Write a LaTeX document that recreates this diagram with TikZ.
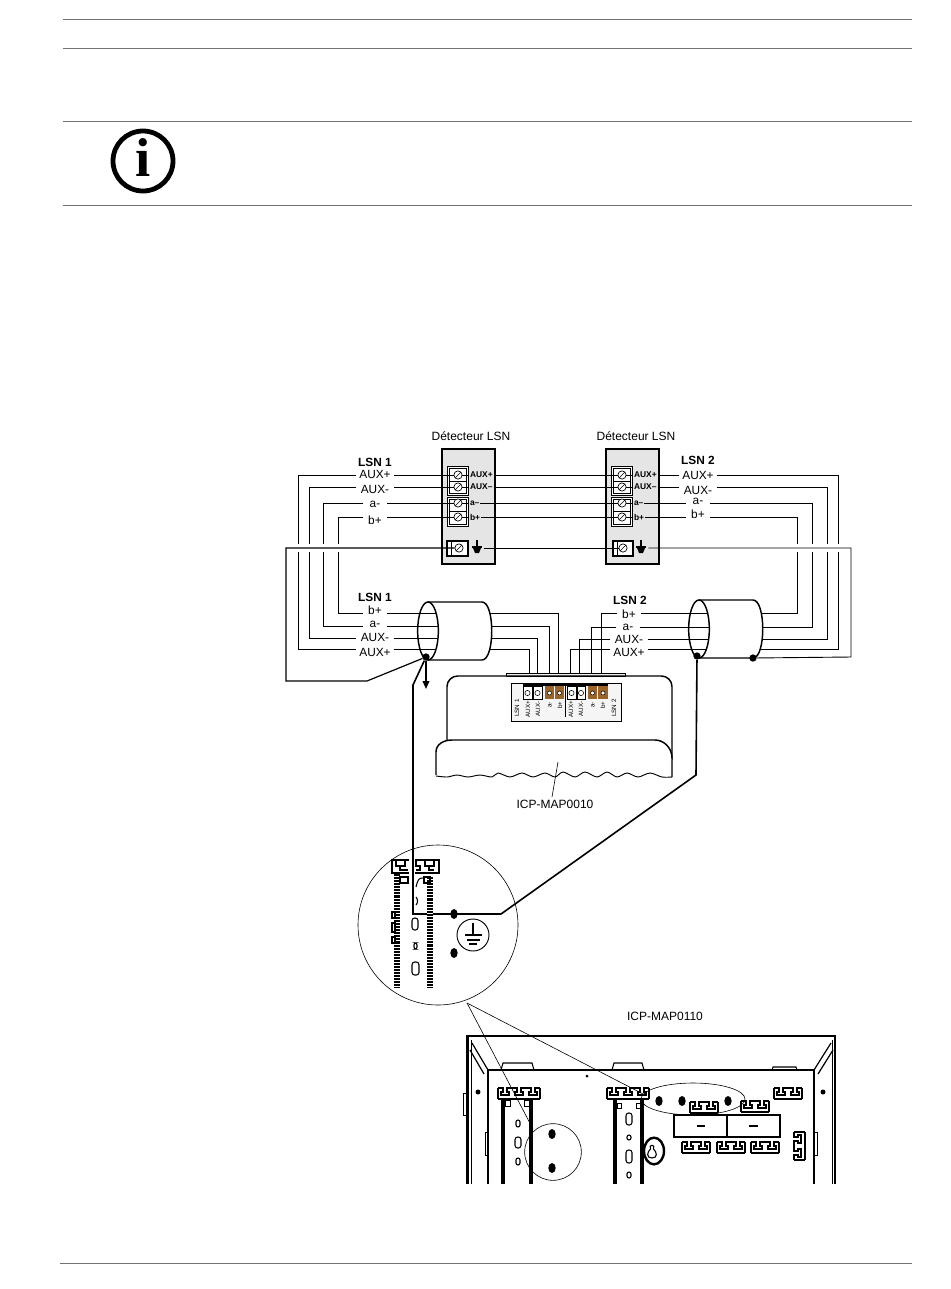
\documentclass[tikz,border=0pt]{standalone}
\usepackage{fontspec}
\setmainfont{Liberation Sans}
\newfontfamily\iconfont{Liberation Serif}
\usetikzlibrary{shapes.geometric,arrows.meta}

\definecolor{termbrown}{HTML}{9A6428}
\tikzset{
  wire/.style={line width=0.68pt},
  wiregap/.style={white,line width=6pt},
  earthwire/.style={line width=0.9pt},
  heavywire/.style={line width=1.2pt},
  rule/.style={black!55,line width=0.7pt},
  thinline/.style={line width=0.45pt},
  auxlabel/.style={inner sep=0pt,minimum height=9pt,minimum width=27.5pt,font=\fontsize{8.9}{9}\selectfont},
  pairlabel/.style={inner sep=0pt,minimum height=9pt,minimum width=17pt,font=\fontsize{8.9}{9}\selectfont},
  headlabel/.style={font=\fontsize{8.9}{9}\selectfont\bfseries},
  titlelabel/.style={font=\fontsize{9}{9}\selectfont},
  termlabel/.style={anchor=west,inner sep=0.6pt,font=\fontsize{6.3}{7}\selectfont\bfseries},
  modlabel/.style={rotate=90,inner sep=0pt,font=\fontsize{4.7}{5}\selectfont},
  screw/.style={circle,draw,fill=white,line width=0.5pt,inner sep=0pt,minimum size=6.2pt,
    path picture={\draw[line width=0.5pt] (path picture bounding box.south west) -- (path picture bounding box.north east);}},
  cable/.style={ellipse,draw,line width=1.1pt,inner sep=0pt,outer sep=0pt,minimum width=15.5pt,minimum height=43.5pt},
  blackdot/.style={circle,fill=black,inner sep=0pt,minimum size=5.5pt},
  earthbox/.style={inner sep=0pt,minimum width=10.5pt,minimum height=10pt},
  hole/.style={ellipse,fill=black,inner sep=0pt,minimum width=5.5pt,minimum height=7.5pt},
  slotline/.style={line width=0.8pt},
  earthsign/.pic={
    \draw[line width=1pt] (0,-8) -- (0,2);
    \draw[line width=1pt] (-5,-1) -- (5,-1);
    \fill (-4,0) -- (4,0) -- (2,5) -- (-2,5) -- cycle;
  },
  slotunit/.pic={
    \draw[slotline] (0,0) -- (5,0) -- (5,4) -- (3,4) -- (3,7) -- (11,7) -- (11,4) -- (9,4) -- (9,0) -- (14,0);
    \draw[slotline] (0,11) -- (14,11);
  },
  slotbartwo/.pic={
    \pic at (0,0) {slotunit};
    \pic at (14,0) {slotunit};
    \draw[slotline] (0,0) -- (0,11);
    \draw[slotline] (28,0) -- (28,11);
  },
  slotbarthree/.pic={
    \pic at (0,0) {slotunit};
    \pic at (14,0) {slotunit};
    \pic at (28,0) {slotunit};
    \draw[slotline] (0,0) -- (0,11);
    \draw[slotline] (42,0) -- (42,11);
  },
}

\begin{document}
\begin{tikzpicture}[x=0.75pt,y=-0.75pt]
\useasboundingbox (0,0) rectangle (950,1289);

% page rules and note sign
\draw [rule] (63,19)  -- (912,19);
\draw [rule] (63,48)  -- (912,48);
\draw [rule] (63,121) -- (912,121);
\draw [rule] (63,205) -- (912,205);
\draw [rule] (60,1263) -- (912,1263);
\node (info_ring) [circle,draw,line width=3.6pt,minimum size=45pt,inner sep=0pt] at (143,161) {};
\node (info_i) at (143,158) {\iconfont\bfseries\fontsize{41}{41}\selectfont i};

% detector housings
\fill [black!10] (442,449) rectangle (495,564);
\fill [black!10] (606,449) rectangle (659,564);
\draw [line width=1.6pt] (442,449) rectangle (495,564);
\draw [line width=1.6pt] (606,449) rectangle (659,564);

\draw [line width=0.5pt,fill=white] (447,466) rectangle (468,495);
\draw [line width=0.5pt,fill=white] (447,497) rectangle (468,526);
\draw [line width=0.5pt] (449,468) rectangle (466,493);
\draw [line width=0.5pt] (449,499) rectangle (466,524);
\draw [line width=0.5pt] (449,481) -- (466,481);
\draw [line width=0.5pt] (449,511) -- (466,511);
\draw [line width=0.5pt,fill=white] (611,466) rectangle (632,495);
\draw [line width=0.5pt,fill=white] (611,497) rectangle (632,526);
\draw [line width=0.5pt] (613,468) rectangle (630,493);
\draw [line width=0.5pt] (613,499) rectangle (630,524);
\draw [line width=0.5pt] (613,481) -- (630,481);
\draw [line width=0.5pt] (613,511) -- (630,511);
\draw [line width=1.1pt,fill=white] (447,541) rectangle (468,556);
\draw [line width=0.5pt] (451,541) -- (451,556);
\draw [line width=1.1pt,fill=white] (613,541) rectangle (633,556);
\draw [line width=0.5pt] (617,541) -- (617,556);

\node (scr1_aux_p) [screw] at (458,475) {};
\node (scr1_aux_m) [screw] at (458,487) {};
\node (scr1_a)     [screw] at (458,503) {};
\node (scr1_b)     [screw] at (458,517) {};
\node (scr1_gnd)   [screw] at (459,548) {};
\node (scr2_aux_p) [screw] at (622,475) {};
\node (scr2_aux_m) [screw] at (622,487) {};
\node (scr2_a)     [screw] at (622,503) {};
\node (scr2_b)     [screw] at (622,517) {};
\node (scr2_gnd)   [screw] at (623,548) {};

\node (earth_1) [earthbox] at (477,548) {};
\node (earth_2) [earthbox] at (641,548) {};
\pic at (477,548) {earthsign};
\pic at (641,548) {earthsign};

% texts
\node (det_1) [titlelabel] at (471,436) {Détecteur LSN};
\node (det_2) [titlelabel] at (636,436) {Détecteur LSN};
\node (icp_0010) [titlelabel] at (555,804) {ICP-MAP0010};
\node (icp_0110) [titlelabel] at (665,1016) {ICP-MAP0110};

\node (head_l1) [headlabel] at (375,462) {LSN 1};
\node (head_l2) [headlabel] at (375,597) {LSN 1};
\node (head_r1) [headlabel] at (698,460) {LSN 2};
\node (head_r2) [headlabel] at (630,600) {LSN 2};

\node (tl_aux_p) [auxlabel]  at (375,474) {AUX+};
\node (tl_aux_m) [auxlabel]  at (375,489) {AUX-};
\node (tl_a)     [pairlabel] at (375,504) {a-};
\node (tl_b)     [pairlabel] at (375,520) {b+};
\node (ll_b)     [pairlabel] at (375,610) {b+};
\node (ll_a)     [pairlabel] at (375,624) {a-};
\node (ll_aux_m) [auxlabel]  at (375,637) {AUX-};
\node (ll_aux_p) [auxlabel]  at (375,652) {AUX+};
\node (tr_aux_p) [auxlabel]  at (698,475) {AUX+};
\node (tr_aux_m) [auxlabel]  at (698,490) {AUX-};
\node (tr_a)     [pairlabel] at (698,501) {a-};
\node (tr_b)     [pairlabel] at (698,514) {b+};
\node (lr_b)     [pairlabel] at (629,614) {b+};
\node (lr_a)     [pairlabel] at (628,627) {a-};
\node (lr_aux_m) [auxlabel]  at (629,639) {AUX-};
\node (lr_aux_p) [auxlabel]  at (629,652) {AUX+};

\node (d1_aux_p) [termlabel] at (469,475) {AUX+};
\node (d1_aux_m) [termlabel] at (469,487) {AUX–};
\node (d1_a)     [termlabel] at (469,503) {a–};
\node (d1_b)     [termlabel] at (469,517) {b+};
\node (d2_aux_p) [termlabel] at (633,475) {AUX+};
\node (d2_aux_m) [termlabel] at (633,487) {AUX–};
\node (d2_a)     [termlabel] at (633,503) {a–};
\node (d2_b)     [termlabel] at (633,517) {b+};

% cables
\node (cable_1) [cable] at (428,631) {};
\node (cable_2) [cable] at (699,629) {};
\draw [line width=1.1pt] (cable_1.north) -- (482,602) .. controls (495,602) and (495,660) .. (482,660) -- (cable_1.south);
\draw [line width=1.1pt] (cable_2.north) -- (753,600) .. controls (766,600) and (766,658) .. (753,658) -- (cable_2.south);
\node (dot_1) [blackdot] at (426,657) {};
\node (dot_2) [blackdot] at (697,656) {};
\node (dot_3) [blackdot] at (753,658) {};

\coordinate (c1i_b)     at (436,613);
\coordinate (c1i_a)     at (438,626);
\coordinate (c1i_aux_m) at (438,638);
\coordinate (c1i_aux_p) at (436,649);
\coordinate (c1o_b)     at (490,613);
\coordinate (c1o_a)     at (492,626);
\coordinate (c1o_aux_m) at (492,638);
\coordinate (c1o_aux_p) at (490,649);
\coordinate (c2i_b)     at (707,613);
\coordinate (c2i_a)     at (709,627);
\coordinate (c2i_aux_m) at (709,639);
\coordinate (c2i_aux_p) at (707,649);
\coordinate (c2o_b)     at (761,613);
\coordinate (c2o_a)     at (763,627);
\coordinate (c2o_aux_m) at (763,639);
\coordinate (c2o_aux_p) at (761,649);

% module
\draw [line width=0.7pt,fill=black!8] (506,676) rectangle (625,673);
\draw [line width=1.1pt,rounded corners=8pt] (447,742) -- (447,676) -- (672,676) -- (672,760);
\fill [white] (436,775) -- (436,752) .. controls (436,744) and (444,740) .. (452,740) -- (655,740) .. controls (664,740) and (672,748) .. (672,758) -- (672,777) -- cycle;
\draw [line width=1.1pt] (436,775) -- (436,752) .. controls (436,744) and (444,740) .. (452,740) -- (655,740) .. controls (664,740) and (672,748) .. (672,758) -- (672,777);
\draw [line width=0.7pt] plot[smooth,tension=0.5] coordinates {(436,776) (447,777) (457,775) (468,777) (480,775) (492,777) (498,773) (510,777) (522,773) (533,777) (545,773) (555,777) (563,772) (575,777) (585,772) (597,777) (607,772) (617,777) (627,773) (638,777) (650,773) (662,777) (672,777)};
\coordinate (lead_a) at (558,762);
\coordinate (lead_b) at (552,797);
\draw [thinline] (lead_a) -- (lead_b);

\draw [line width=0.4pt,fill=black!4] (511,683) rectangle (621,721);
\draw [line width=1.2pt] (523,685) -- (608,685);
\fill [white] (523,686) rectangle (532,699);
\fill [white] (533,686) rectangle (542,699);
\fill [termbrown] (545,686) rectangle (554,699);
\fill [termbrown] (555,686) rectangle (564,699);
\fill [white] (567,686) rectangle (576,699);
\fill [white] (577,686) rectangle (585,699);
\fill [termbrown] (588,686) rectangle (597,699);
\fill [termbrown] (598,686) rectangle (608,699);
\draw [line width=0.5pt] (523,686) rectangle (532,699);
\draw [line width=0.5pt] (533,686) rectangle (542,699);
\draw [line width=0.5pt] (567,686) rectangle (576,699);
\draw [line width=0.5pt] (577,686) rectangle (585,699);
\draw [line width=0.6pt] (565.5,686) -- (565.5,717);
\draw [line width=0.4pt,fill=white] (527.5,693) circle (2.6);
\draw [line width=0.4pt,fill=white] (537.5,693) circle (2.6);
\draw [line width=0.4pt,fill=white] (549.5,693) circle (2);
\draw [line width=0.4pt,fill=white] (559.5,693) circle (2);
\draw [line width=0.4pt,fill=white] (571.5,693) circle (2.6);
\draw [line width=0.4pt,fill=white] (581,693) circle (2.6);
\draw [line width=0.4pt,fill=white] (592.5,693) circle (2);
\draw [line width=0.4pt,fill=white] (603,693) circle (2);

\node (mod_lsn_1)   [modlabel] at (517,708) {LSN 1};
\node (mod_aux_p_1) [modlabel] at (528,709) {AUX+};
\node (mod_aux_m_1) [modlabel] at (538,709) {AUX-};
\node (mod_a_1)     [modlabel] at (550,705) {a-};
\node (mod_b_1)     [modlabel] at (560,705) {b+};
\node (mod_aux_p_2) [modlabel] at (571,709) {AUX+};
\node (mod_aux_m_2) [modlabel] at (581,709) {AUX-};
\node (mod_a_2)     [modlabel] at (593,705) {a-};
\node (mod_b_2)     [modlabel] at (603,705) {b+};
\node (mod_lsn_2)   [modlabel] at (614,708) {LSN 2};

% wires, detector row
\draw [wire] (scr1_aux_p.west) -- (scr1_aux_p.west -| tl_aux_p.east);
\draw [wire] (scr1_aux_m.west) -- (scr1_aux_m.west -| tl_aux_m.east);
\draw [wire] (scr1_a.west)     -- (scr1_a.west -| tl_a.east);
\draw [wire] (scr1_b.west)     -- (scr1_b.west -| tl_b.east);

\draw [wire] (scr1_aux_p.east) -- (d1_aux_p.west);
\draw [wire] (scr1_aux_m.east) -- (d1_aux_m.west);
\draw [wire] (scr1_a.east)     -- (d1_a.west);
\draw [wire] (scr1_b.east)     -- (d1_b.west);
\draw [wire] (scr2_aux_p.east) -- (d2_aux_p.west);
\draw [wire] (scr2_aux_m.east) -- (d2_aux_m.west);
\draw [wire] (scr2_a.east)     -- (d2_a.west);
\draw [wire] (scr2_b.east)     -- (d2_b.west);

\draw [wire] (d1_aux_p.east) -- (scr2_aux_p.west);
\draw [wire] (d1_aux_m.east) -- (scr2_aux_m.west);
\draw [wire] (d1_a.east)     -- (scr2_a.west);
\draw [wire] (d1_b.east)     -- (scr2_b.west);

\draw [wire] (d2_aux_p.east) -- (d2_aux_p.east -| tr_aux_p.west);
\draw [wire] (d2_aux_m.east) -- (d2_aux_m.east -| tr_aux_m.west);
\draw [wire] (d2_a.east)     -- (d2_a.east -| tr_a.west);
\draw [wire] (d2_b.east)     -- (d2_b.east -| tr_b.west);

% wires, left side
\draw [wire] (scr1_aux_p.west -| tl_aux_p.west) -- (298,475) -- (298,649) -- (c1i_aux_p -| ll_aux_p.west);
\draw [wire] (scr1_aux_m.west -| tl_aux_m.west) -- (309,487) -- (309,638) -- (c1i_aux_m -| ll_aux_m.west);
\draw [wire] (scr1_a.west -| tl_a.west) -- (323,503) -- (323,626) -- (c1i_a -| ll_a.west);
\draw [wire] (scr1_b.west -| tl_b.west) -- (338,517) -- (338,613) -- (c1i_b -| ll_b.west);
\draw [wire] (c1i_aux_p -| ll_aux_p.east) -- (c1i_aux_p);
\draw [wire] (c1i_aux_m -| ll_aux_m.east) -- (c1i_aux_m);
\draw [wire] (c1i_a -| ll_a.east) -- (c1i_a);
\draw [wire] (c1i_b -| ll_b.east) -- (c1i_b);

% wires, right side
\draw [wire] (d2_aux_p.east -| tr_aux_p.east) -- (838,475) -- (838,649) -- (c2o_aux_p);
\draw [wire] (d2_aux_m.east -| tr_aux_m.east) -- (827,487) -- (827,639) -- (c2o_aux_m);
\draw [wire] (d2_a.east -| tr_a.east) -- (812,503) -- (812,627) -- (c2o_a);
\draw [wire] (d2_b.east -| tr_b.east) -- (797,517) -- (797,613) -- (c2o_b);

% wires into the module
\draw [wire] (c1o_b) -- (558,613) -- (558,673);
\draw [wire] (c1o_a) -- (549,626) -- (549,673);
\draw [wire] (c1o_aux_m) -- (537,638) -- (537,673);
\draw [wire] (c1o_aux_p) -- (529,649) -- (529,673);
\draw [wire] (c2i_b -| lr_b.west) -- (601,613) -- (601,673);
\draw [wire] (c2i_a -| lr_a.west) -- (591,627) -- (591,673);
\draw [wire] (c2i_aux_m -| lr_aux_m.west) -- (579,639) -- (579,673);
\draw [wire] (c2i_aux_p -| lr_aux_p.west) -- (570,649) -- (570,673);
\draw [wire] (c2i_b -| lr_b.east) -- (c2i_b);
\draw [wire] (c2i_a -| lr_a.east) -- (c2i_a);
\draw [wire] (c2i_aux_m -| lr_aux_m.east) -- (c2i_aux_m);
\draw [wire] (c2i_aux_p -| lr_aux_p.east) -- (c2i_aux_p);

% earth wires
\draw [wiregap] (292,548) -- (345,548);
\draw [wiregap] (790,548) -- (845,548);
\draw [earthwire] (scr1_gnd.west) -- (286,548) -- (286,681) -- (367,681) -- (dot_1);
\draw [wire] (earth_1.east) -- (scr2_gnd.west);
\draw [wire] (earth_2.east) -- (851,548) -- (851,657) -- (dot_3);
\draw [heavywire] (dot_1) -- (413,685) -- (413,914) -- (501,914) -- (696,775) -- (dot_2);
\draw [heavywire,-{Triangle[width=5pt,length=6pt]}] (dot_1) -- (426,689);

% magnifier
\node (lens) [circle,draw,thinline,minimum size=120pt,inner sep=0pt] at (438,925) {};
\draw [line width=4pt] (397,873) -- (397,988);
\draw [line width=4pt] (430,876) -- (430,988);
\draw [white,line width=4pt,dash pattern=on 0.3pt off 2pt] (397,873) -- (397,988);
\draw [white,line width=4pt,dash pattern=on 0.3pt off 2pt] (430,876) -- (430,988);
\draw [line width=0.9pt] (409,860) -- (392,860) -- (392,873) -- (409,873);
\draw [line width=0.9pt] (415,860) -- (439,860) -- (439,873) -- (415,873);
\draw [line width=0.8pt] (396,861) -- (396,866) -- (400,866) -- (400,870) -- (408,870);
\draw [line width=0.8pt] (405,861) -- (405,866) -- (400,866);
\draw [line width=0.8pt] (416,870) -- (420,870) -- (420,866) -- (416,866) -- (416,861);
\draw [line width=0.8pt] (425,861) -- (425,866) -- (429,866) -- (429,870) -- (434,870);
\draw [line width=0.8pt] (434,861) -- (434,866) -- (429,866);
\draw [line width=0.8pt] (400,877) rectangle (408,883);
\draw [line width=0.8pt] (424,877) rectangle (430,883);
\draw [line width=0.8pt] (416,887) .. controls (418,879) and (419,878) .. (423,878);
\draw [line width=0.8pt] (416,897) .. controls (418,899) and (418,903) .. (416,905);
\draw [line width=0.8pt] (392,912) rectangle (395,918);
\draw [line width=0.8pt] (392,923) rectangle (395,932);
\draw [line width=0.8pt] (392,937) rectangle (395,943);
\draw [line width=0.8pt,rounded corners=2pt] (412,918) rectangle (418,930);
\draw [line width=0.8pt,rounded corners=1.5pt] (414,943) rectangle (417,949);
\draw [line width=0.8pt,rounded corners=2pt] (412,962) rectangle (419,975);
\node (lens_hole_a) [hole] at (454,914) {};
\node (lens_hole_b) [hole] at (454,953) {};
\node (lens_earth) [circle,draw,line width=0.7pt,minimum size=24pt,inner sep=0pt] at (473,935) {};
\draw [line width=1.1pt] (473,923) -- (473,935);
\draw [line width=1.3pt] (465,935) -- (482,935);
\draw [line width=1.3pt] (467,940) -- (480,940);
\draw [line width=1.3pt] (469,944) -- (477,944);

\coordinate (lens_foot) at (467,1003);
\coordinate (spot_left) at (533,1129);
\coordinate (spot_right) at (645,1095);
\draw [thinline] (lens_foot) -- (spot_left);
\draw [thinline] (lens_foot) -- (spot_right);

% cabinet
\begin{scope}
\clip (450,1030) rectangle (850,1183);
\draw [line width=1.8pt] (467.5,1190) -- (467.5,1036) -- (835,1036) -- (835,1190);
\draw [line width=0.7pt] (471,1190) -- (471,1040);
\draw [line width=0.7pt] (832,1190) -- (832,1040);
\draw [line width=1.1pt] (488,1190) -- (488,1070) -- (814,1070) -- (814,1190);
\draw [line width=0.9pt] (472,1043) -- (488,1070);
\draw [line width=0.9pt] (470,1050) -- (484,1074);
\draw [line width=0.9pt] (831,1043) -- (814,1070);
\draw [line width=0.9pt] (833,1050) -- (818,1074);
\draw [line width=0.6pt] (463,1093) rectangle (466,1115);
\draw [line width=0.6pt] (485,1132) rectangle (488,1155);
\draw [line width=0.6pt] (814,1132) rectangle (817,1155);
\draw [line width=0.8pt] (501,1070) -- (503,1063) -- (532,1063) -- (534,1070);
\draw [line width=0.8pt] (612,1070) -- (614,1063) -- (642,1063) -- (644,1070);
\draw [line width=0.8pt] (772,1070) -- (773,1067) -- (796,1067) -- (797,1070);
\fill (587,1076) circle (1.5);
\fill (478,1092) circle (2.5);
\fill (823,1092) circle (2.5);

\draw [line width=3.4pt] (503,1099) -- (503,1190);
\draw [line width=3.4pt] (531,1099) -- (531,1190);
\draw [line width=3.4pt] (615,1099) -- (615,1190);
\draw [line width=3.4pt] (642,1099) -- (642,1190);
\draw [line width=0.7pt] (506,1099) -- (529,1099);
\draw [line width=0.7pt] (618,1099) -- (640,1099);
\draw [line width=0.6pt] (505,1100) rectangle (510,1106);
\draw [line width=0.6pt] (524,1100) rectangle (529,1106);
\draw [line width=0.6pt] (617,1103) rectangle (621,1108);
\draw [line width=0.6pt] (636,1103) rectangle (640,1108);

\pic at (498,1088) {slotbarthree};
\pic at (607,1088) {slotbarthree};
\pic at (690,1102) {slotbartwo};
\pic at (741,1101) {slotbartwo};
\pic at (774,1088) {slotbartwo};
\pic at (682,1142) {slotbartwo};
\pic at (717,1142) {slotbartwo};
\pic at (751,1142) {slotbartwo};
\begin{scope}[shift={(794,1160)},x={(0pt,0.75pt)},y={(0.75pt,0pt)}]
\pic at (0,0) {slotbartwo};
\end{scope}

\draw [line width=0.8pt,rounded corners=1.5pt] (516,1120) rectangle (520,1127);
\draw [line width=0.8pt,rounded corners=2pt] (515,1137) rectangle (521,1148);
\draw [line width=0.8pt,rounded corners=1.5pt] (516,1158) rectangle (520,1165);
\draw [line width=0.8pt,rounded corners=2pt] (626,1113) rectangle (632,1125);
\draw [line width=0.8pt,rounded corners=1.5pt] (627,1135) rectangle (631,1140);
\draw [line width=0.8pt,rounded corners=2pt] (626,1150) rectangle (632,1163);
\draw [line width=0.8pt,rounded corners=1.5pt] (627,1172) rectangle (631,1178);

\node (key_hole) [ellipse,draw,line width=1.8pt,fill=white,inner sep=0pt,minimum width=15pt,minimum height=20pt] at (654,1151) {};
\draw [line width=0.8pt,fill=white] (652,1158) .. controls (646,1158) and (647,1152) .. (650.5,1149) .. controls (648,1144) and (656,1144) .. (653.5,1149) .. controls (657,1152) and (658,1158) .. (652,1158) -- cycle;

\draw [line width=0.8pt] (674,1115) rectangle (727,1137);
\draw [line width=0.8pt] (727,1115) rectangle (780,1137);
\draw [line width=1.7pt] (727,1115) -- (727,1137);
\draw [line width=1.2pt] (697,1126) -- (705,1126);
\draw [line width=1.2pt] (749,1126) -- (758,1126);

\node (spot_round) [circle,draw,thinline,minimum size=42.5pt,inner sep=0pt] at (553,1152) {};
\node (spot_flat) [ellipse,draw,thinline,minimum width=78pt,minimum height=24pt,inner sep=0pt] at (693,1099) {};
\node (hole_a) [hole] at (552,1134) {};
\node (hole_b) [hole] at (552,1168) {};
\node (hole_c) [hole] at (659,1101) {};
\node (hole_d) [hole] at (682,1101) {};
\node (hole_e) [hole] at (728,1101) {};
\end{scope}

\end{tikzpicture}
\end{document}
